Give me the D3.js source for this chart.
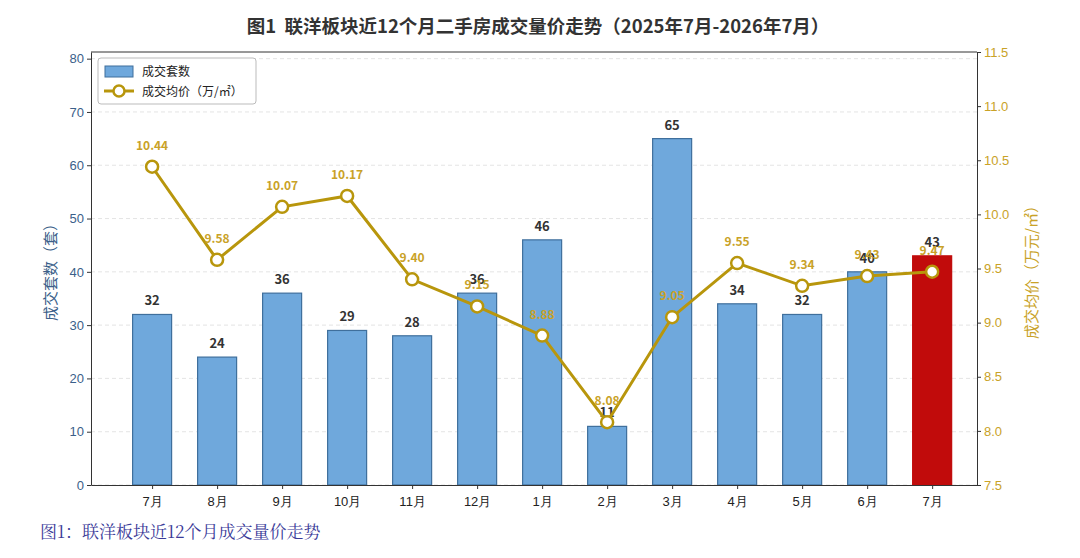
<!DOCTYPE html>
<html>
<head>
<meta charset="utf-8">
<script src="https://cdn.jsdelivr.net/npm/d3@7"></script>
<style>
  body { margin: 0; background: #fff; }
  svg { font-family: "Noto Sans CJK SC", "Noto Sans", sans-serif; }
</style>
</head>
<body>
<div id="chart"></div>
<script>
// months, deal counts and average price (万元/㎡)
var months = ['7月', '8月', '9月', '10月', '11月', '12月', '1月', '2月', '3月', '4月', '5月', '6月', '7月'];
var counts = [32, 24, 36, 29, 28, 36, 46, 11, 65, 34, 32, 40, 43];
var prices = [10.44, 9.58, 10.07, 10.17, 9.40, 9.15, 8.88, 8.08, 9.05, 9.55, 9.34, 9.43, 9.47];
var leftTicks = [0, 10, 20, 30, 40, 50, 60, 70, 80];
var rightTicks = [7.5, 8.0, 8.5, 9.0, 9.5, 10.0, 10.5, 11.0, 11.5];

var W = 1080, H = 558;
var m = { top: 52, right: 103, bottom: 73, left: 91 };

var barColor = '#6fa8dc', barEdge = '#3f6f9c', hiColor = '#c10b0b';
var gold = '#b8960c', goldText = '#c9a227', blueText = '#3b5f8a';

var svg = d3.select('#chart').append('svg').attr('width', W).attr('height', H);

var x = d3.scaleLinear().domain([-0.94, 12.69]).range([m.left, W - m.right]);
var yL = d3.scaleLinear().domain([0, 81.25]).range([H - m.bottom, m.top]);
var yR = d3.scaleLinear().domain([7.5, 11.5]).range([H - m.bottom, m.top]);
var bw = x(0.6) - x(0);

// grid
svg.append('g').selectAll('line').data(leftTicks).enter().append('line')
    .attr('x1', m.left).attr('x2', W - m.right)
    .attr('y1', function(d) { return yL(d); }).attr('y2', function(d) { return yL(d); })
    .attr('stroke', '#ddd').attr('stroke-dasharray', '4,3').attr('stroke-width', 0.8);

// bars
svg.append('g').selectAll('rect').data(counts).enter().append('rect')
    .attr('x', function(d, i) { return x(i) - bw / 2; })
    .attr('y', function(d) { return yL(d); })
    .attr('width', bw)
    .attr('height', function(d) { return yL(0) - yL(d); })
    .attr('fill', function(d, i) { return i === counts.length - 1 ? hiColor : barColor; })
    .attr('stroke', function(d, i) { return i === counts.length - 1 ? hiColor : barEdge; })
    .attr('stroke-width', 1.2);

svg.append('g').selectAll('text').data(counts).enter().append('text')
    .attr('x', function(d, i) { return x(i); })
    .attr('y', function(d) { return yL(d) - 9; })
    .attr('text-anchor', 'middle')
    .attr('font-size', 13).attr('font-weight', 'bold').attr('fill', '#333')
    .text(function(d) { return d; });

// price line
var line = d3.line().x(function(d, i) { return x(i); }).y(function(d) { return yR(d); });
svg.append('path').datum(prices).attr('d', line)
    .attr('fill', 'none').attr('stroke', gold).attr('stroke-width', 3);

svg.append('g').selectAll('circle').data(prices).enter().append('circle')
    .attr('cx', function(d, i) { return x(i); })
    .attr('cy', function(d) { return yR(d); })
    .attr('r', 6).attr('fill', '#fff').attr('stroke', gold).attr('stroke-width', 2.5);

svg.append('g').selectAll('text').data(prices).enter().append('text')
    .attr('x', function(d, i) { return x(i); })
    .attr('y', function(d) { return yR(d) - 17; })
    .attr('text-anchor', 'middle')
    .attr('font-size', 12).attr('font-weight', 'bold').attr('fill', goldText)
    .text(function(d) { return d.toFixed(2); });

// axes
var gx = svg.append('g').attr('transform', 'translate(0,' + (H - m.bottom) + ')')
    .call(d3.axisBottom(x).tickValues(d3.range(months.length)).tickFormat(function(i) { return months[i]; }).tickSize(4).tickSizeOuter(0));
gx.selectAll('text').attr('font-size', 13).attr('fill', '#222').attr('dy', '1.1em');

var gl = svg.append('g').attr('transform', 'translate(' + m.left + ',0)')
    .call(d3.axisLeft(yL).tickValues(leftTicks).tickSize(4).tickSizeOuter(0));
gl.selectAll('text').attr('font-size', 13).attr('fill', blueText);

var gr = svg.append('g').attr('transform', 'translate(' + (W - m.right) + ',0)')
    .call(d3.axisRight(yR).tickValues(rightTicks).tickFormat(d3.format('.1f')).tickSize(4).tickSizeOuter(0));
gr.selectAll('text').attr('font-size', 13).attr('fill', goldText);

svg.selectAll('.domain').attr('stroke', '#333');
svg.selectAll('.tick line').attr('stroke', '#333');

// frame top
svg.append('line').attr('x1', m.left).attr('x2', W - m.right).attr('y1', m.top).attr('y2', m.top)
    .attr('stroke', '#333');

// axis titles
svg.append('text')
    .attr('transform', 'translate(56,' + ((m.top + H - m.bottom) / 2) + ') rotate(-90)')
    .attr('text-anchor', 'middle').attr('font-size', 15).attr('fill', blueText)
    .text('成交套数（套）');
svg.append('text')
    .attr('transform', 'translate(1037,' + ((m.top + H - m.bottom) / 2) + ') rotate(-90)')
    .attr('text-anchor', 'middle').attr('font-size', 15).attr('fill', goldText)
    .text('成交均价（万元/㎡）');

// title
svg.append('text').attr('x', 538).attr('y', 33).attr('text-anchor', 'middle')
    .attr('font-size', 18.5).attr('font-weight', 'bold').attr('fill', '#333')
    .style('white-space', 'pre')
    .text('图1  联洋板块近12个月二手房成交量价走势（2025年7月-2026年7月）');

// legend
var lg = svg.append('g').attr('transform', 'translate(98,58)');
lg.append('rect').attr('width', 158).attr('height', 46).attr('rx', 3)
    .attr('fill', '#fff').attr('stroke', '#bbb');
lg.append('rect').attr('x', 7).attr('y', 8).attr('width', 28).attr('height', 11)
    .attr('fill', barColor).attr('stroke', barEdge);
lg.append('text').attr('x', 44).attr('y', 18).attr('font-size', 12).attr('fill', '#222').text('成交套数');
lg.append('line').attr('x1', 6).attr('x2', 36).attr('y1', 33).attr('y2', 33)
    .attr('stroke', gold).attr('stroke-width', 3);
lg.append('circle').attr('cx', 21).attr('cy', 33).attr('r', 5.5)
    .attr('fill', '#fff').attr('stroke', gold).attr('stroke-width', 2.5);
lg.append('text').attr('x', 44).attr('y', 38).attr('font-size', 12).attr('fill', '#222').text('成交均价（万/㎡）');

// caption
svg.append('text').attr('x', 40).attr('y', 538)
    .attr('font-size', 17).attr('fill', '#3a3a98')
    .attr('font-family', '"Noto Serif CJK SC", "Noto Sans CJK SC", serif')
    .text('图1：联洋板块近12个月成交量价走势');
</script>
</body>
</html>
